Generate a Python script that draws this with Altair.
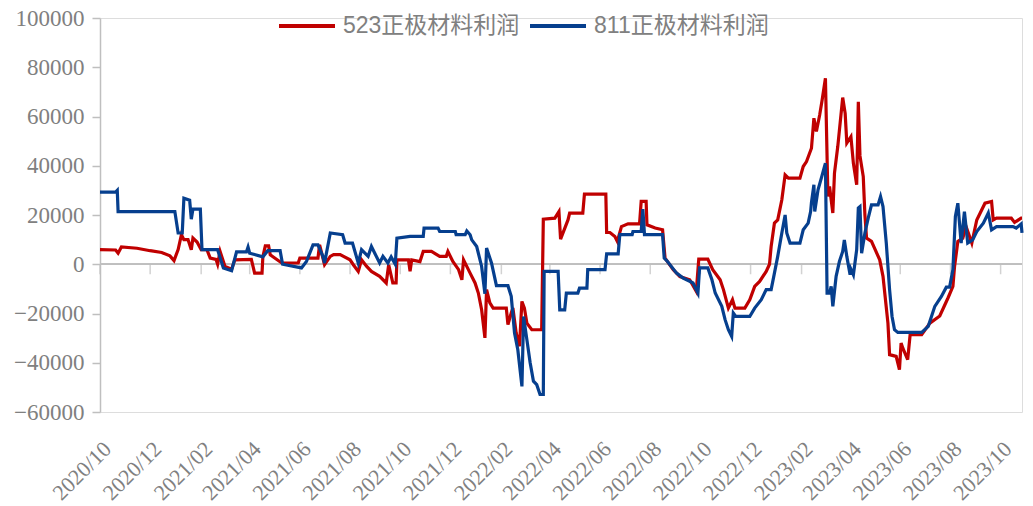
import altair as alt
import pandas as pd

# Cathode material profit (yuan/ton), daily series with step changes
red_name = "523正极材料利润"
blue_name = "811正极材料利润"

red_dates = [
    "2020-10-01", "2020-10-20", "2020-10-23", "2020-10-27", "2020-11-15", "2020-12-01",
    "2020-12-15", "2020-12-25", "2020-12-30", "2021-01-04", "2021-01-08", "2021-01-11",
    "2021-01-16", "2021-01-20", "2021-01-22", "2021-01-27", "2021-02-01", "2021-02-08",
    "2021-02-12", "2021-02-19", "2021-02-21", "2021-02-24", "2021-03-02", "2021-03-10",
    "2021-03-14", "2021-04-03", "2021-04-07", "2021-04-16", "2021-04-17", "2021-04-20",
    "2021-04-24", "2021-04-26", "2021-05-10", "2021-05-30", "2021-06-01", "2021-06-23",
    "2021-06-25", "2021-07-01", "2021-07-08", "2021-07-12", "2021-07-20", "2021-08-01",
    "2021-08-05", "2021-08-11", "2021-08-15", "2021-08-21", "2021-08-27", "2021-09-06",
    "2021-09-14", "2021-09-17", "2021-09-22", "2021-09-26", "2021-09-27", "2021-10-11",
    "2021-10-13", "2021-10-15", "2021-10-25", "2021-10-29", "2021-11-08", "2021-11-18",
    "2021-11-26", "2021-11-28", "2021-12-04", "2021-12-11", "2021-12-15", "2021-12-17",
    "2021-12-25", "2021-12-31", "2022-01-04", "2022-01-08", "2022-01-12", "2022-01-14",
    "2022-01-18", "2022-01-22", "2022-02-07", "2022-02-09", "2022-02-13", "2022-02-15",
    "2022-02-19", "2022-02-23", "2022-02-26", "2022-03-01", "2022-03-04", "2022-03-10",
    "2022-03-22", "2022-03-24", "2022-04-07", "2022-04-12", "2022-04-14", "2022-04-23",
    "2022-04-25", "2022-05-11", "2022-05-13", "2022-06-08", "2022-06-09", "2022-06-13",
    "2022-06-19", "2022-06-22", "2022-06-27", "2022-07-05", "2022-07-19", "2022-07-21",
    "2022-07-27", "2022-07-28", "2022-08-07", "2022-08-16", "2022-08-19", "2022-08-29",
    "2022-09-06", "2022-09-18", "2022-09-26", "2022-09-29", "2022-10-10", "2022-10-16",
    "2022-10-25", "2022-10-29", "2022-11-04", "2022-11-09", "2022-11-12", "2022-11-24",
    "2022-11-30", "2022-12-06", "2022-12-12", "2022-12-20", "2022-12-24", "2022-12-26",
    "2022-12-30", "2023-01-03", "2023-01-08", "2023-01-12", "2023-01-16", "2023-01-30",
    "2023-02-03", "2023-02-07", "2023-02-13", "2023-02-16", "2023-02-19", "2023-02-23",
    "2023-02-26", "2023-03-02", "2023-03-05", "2023-03-07", "2023-03-11", "2023-03-13",
    "2023-03-17", "2023-03-23", "2023-03-26", "2023-03-28", "2023-04-02", "2023-04-05",
    "2023-04-09", "2023-04-11", "2023-04-13", "2023-04-17", "2023-04-19", "2023-04-21",
    "2023-04-27", "2023-05-07", "2023-05-11", "2023-05-17", "2023-05-19", "2023-05-27",
    "2023-05-31", "2023-06-02", "2023-06-04", "2023-06-10", "2023-06-13", "2023-06-27",
    "2023-07-07", "2023-07-19", "2023-07-29", "2023-08-04", "2023-08-06", "2023-08-10",
    "2023-08-16", "2023-08-20", "2023-08-27", "2023-09-02", "2023-09-12", "2023-09-20",
    "2023-09-22", "2023-09-26", "2023-10-14", "2023-10-18", "2023-10-26", "2023-10-27",
]
red_values = [
    5900, 5800, 4500, 7000, 6500, 5500,
    4800, 3400, 1500, 6000, 12000, 10000,
    10000, 5900, 10600, 9000, 5900, 5900,
    2500, 2000, 0, 5200, -900, -2000,
    1800, 2000, -3600, -3600, 3000, 7500,
    7500, 3800, 500, 500, 2500, 2500,
    7900, -200, 3200, 3900, 3900, 1800,
    -200, -2900, 1800, -800, -2900, -4900,
    -7600, -200, -7600, -7600, 1800, 1800,
    -2900, 1800, 1100, 5200, 5200, 3200,
    3200, 5200, 1100, -2200, -6300, 1800,
    -3600, -7600, -11700, -18500, -29900, -10300,
    -15700, -17800, -17800, -24500, -19800, -17800,
    -27900, -33300, -15100, -17800, -23900, -26600,
    -26600, 18300, 18700, 21400, 10200, 18000,
    20800, 20800, 28500, 28500, 12900, 12900,
    11300, 9300, 15300, 16400, 16400, 25500,
    25500, 16000, 14700, 14000, 2500, -2200,
    -5000, -6300, -11000, 2100, 2100, -2200,
    -6300, -10300, -17800, -14400, -17800, -17800,
    -14400, -9000, -7000, -2900, 0, 7200,
    16700, 18000, 26200, 36300, 35000, 35000,
    39700, 41700, 47100, 59300, 53900, 60600,
    66700, 75500, 27500, 31600, 20800, 37000,
    47800, 67700, 61300, 49200, 51800, 41000,
    32300, 66000, 44000, 35600, 20000, 10600,
    9300, 1800, -4900, -23900, -36700, -37400,
    -42800, -32000, -34000, -38700, -28600, -28600,
    -23900, -21000, -13700, -9000, -900, 9300,
    10600, 15300, 8600, 18000, 24800, 25500,
    18000, 18700, 18700, 17000, 18700, 18700,
]

blue_dates = [
    "2020-10-01", "2020-10-20", "2020-10-22", "2020-10-23", "2020-12-31", "2021-01-04",
    "2021-01-09", "2021-01-11", "2021-01-18", "2021-01-20", "2021-01-22", "2021-01-31",
    "2021-02-02", "2021-02-21", "2021-02-28", "2021-03-10", "2021-03-16", "2021-03-28",
    "2021-03-30", "2021-04-01", "2021-04-17", "2021-04-23", "2021-05-08", "2021-05-11",
    "2021-06-03", "2021-06-09", "2021-06-17", "2021-06-23", "2021-06-29", "2021-07-01",
    "2021-07-08", "2021-07-23", "2021-07-26", "2021-08-04", "2021-08-11", "2021-08-15",
    "2021-08-23", "2021-08-27", "2021-09-06", "2021-09-10", "2021-09-16", "2021-09-20",
    "2021-09-25", "2021-09-27", "2021-10-13", "2021-10-29", "2021-10-30", "2021-11-16",
    "2021-11-18", "2021-12-07", "2021-12-08", "2021-12-19", "2021-12-21", "2021-12-25",
    "2021-12-27", "2022-01-02", "2022-01-08", "2022-01-12", "2022-01-14", "2022-01-20",
    "2022-01-26", "2022-02-09", "2022-02-13", "2022-02-17", "2022-02-21", "2022-02-26",
    "2022-02-28", "2022-03-04", "2022-03-08", "2022-03-12", "2022-03-16", "2022-03-20",
    "2022-03-24", "2022-03-25", "2022-04-11", "2022-04-13", "2022-04-19", "2022-04-21",
    "2022-05-05", "2022-05-07", "2022-05-16", "2022-05-17", "2022-06-07", "2022-06-09",
    "2022-06-23", "2022-06-25", "2022-07-10", "2022-07-11", "2022-07-21", "2022-07-23",
    "2022-07-25", "2022-08-16", "2022-08-18", "2022-08-21", "2022-09-02", "2022-09-10",
    "2022-09-18", "2022-09-22", "2022-09-28", "2022-09-30", "2022-10-10", "2022-10-15",
    "2022-10-19", "2022-10-27", "2022-10-31", "2022-11-04", "2022-11-08", "2022-11-10",
    "2022-11-13", "2022-11-30", "2022-12-06", "2022-12-14", "2022-12-20", "2022-12-26",
    "2022-12-30", "2023-01-03", "2023-01-08", "2023-01-12", "2023-01-14", "2023-01-18",
    "2023-01-30", "2023-02-03", "2023-02-09", "2023-02-12", "2023-02-13", "2023-02-16",
    "2023-02-17", "2023-02-21", "2023-02-25", "2023-03-02", "2023-03-04", "2023-03-07",
    "2023-03-09", "2023-03-11", "2023-03-15", "2023-03-19", "2023-03-23", "2023-03-25",
    "2023-03-28", "2023-04-01", "2023-04-02", "2023-04-05", "2023-04-09", "2023-04-11",
    "2023-04-13", "2023-04-15", "2023-04-19", "2023-04-23", "2023-04-27", "2023-05-05",
    "2023-05-08", "2023-05-11", "2023-05-15", "2023-05-19", "2023-05-22", "2023-05-25",
    "2023-05-29", "2023-06-27", "2023-07-05", "2023-07-13", "2023-07-21", "2023-07-27",
    "2023-07-31", "2023-08-04", "2023-08-07", "2023-08-10", "2023-08-14", "2023-08-18",
    "2023-08-22", "2023-08-28", "2023-09-02", "2023-09-10", "2023-09-16", "2023-09-20",
    "2023-09-26", "2023-10-16", "2023-10-20", "2023-10-26", "2023-10-27",
]
blue_values = [
    29300, 29300, 30000, 21400, 21400, 12700,
    12700, 26800, 26000, 18300, 22400, 22400,
    5900, 5900, -1500, -2600, 5000, 5000,
    7000, 4500, 3000, 5500, 5500, 0,
    -1500, 1100, 7900, 7900, 3200, 500,
    12700, 12000, 8600, 8600, 500, 5900,
    3200, 7200, 500, 3200, 500, 3000,
    0, 10600, 11300, 11300, 14700, 14700,
    13300, 13300, 12000, 12000, 13500, 12000,
    9900, 7200, -900, -12000, 6600, 500,
    -8700, -8700, -13000, -27900, -34700, -49600,
    -21200, -30600, -40000, -47500, -48900, -52900,
    -52900, -2900, -2900, -18500, -18500, -11700,
    -11700, -9700, -9700, -2200, -2200, 4200,
    4200, 12000, 12000, 13300, 13300, 22400,
    12000, 12000, 2500, 1500, -3600, -5600,
    -6900, -7600, -11700, -1500, -1500, -6300,
    -11700, -17100, -22500, -26600, -29300, -19800,
    -21200, -21200, -17800, -14400, -10300, -10300,
    -3600, 3200, 12700, 20000, 12700, 8600,
    8600, 14000, 16700, 21400, 25000, 32300,
    21400, 30200, 35000, 41000, -11700, -11700,
    -9000, -17100, -4900, 1100, 5200, 9900,
    3200, -4300, -2000, -4300, 5900, 22800,
    23400, 4500, 12700, 18700, 24100, 24100,
    27500, 23400, 8600, -10300, -21200, -26600,
    -27700, -27700, -25200, -17100, -13100, -9300,
    -9300, -2200, 19400, 24800, 8600, 21400,
    8600, 9900, 13300, 16700, 20800, 14000,
    15300, 15300, 14700, 16400, 12700,
]

# Two-month tick positions along the date axis
tick_dates = [
    "2020-10-01", "2020-12-01", "2021-02-01", "2021-04-01", "2021-06-01", "2021-08-01",
    "2021-10-01", "2021-12-01", "2022-02-01", "2022-04-01", "2022-06-01", "2022-08-01",
    "2022-10-01", "2022-12-01", "2023-02-01", "2023-04-01", "2023-06-01", "2023-08-01",
    "2023-10-01",
]
y_ticks = [-60000, -40000, -20000, 0, 20000, 40000, 60000, 80000, 100000]

RED = "#C00000"
BLUE = "#063F8E"
AXIS_GRAY = "#BFBFBF"
TEXT_GRAY = "#808080"
SERIF = "Liberation Serif"
SANS = "Liberation Sans, Noto Sans CJK SC"

df = pd.concat([
    pd.DataFrame({"date": red_dates, "value": red_values, "series": red_name}),
    pd.DataFrame({"date": blue_dates, "value": blue_values, "series": blue_name}),
], ignore_index=True)
ticks_df = pd.DataFrame({"date": tick_dates})


def dt(s):
    y, m, d = (int(p) for p in s.split("-"))
    return alt.DateTime(year=y, month=m, date=d, utc=True)


x_scale = alt.Scale(type="utc", domain=[dt("2020-10-01"), dt("2023-10-27")], nice=False)
y_scale = alt.Scale(domain=[-60000, 100000], nice=False, zero=False)

x_axis = alt.Axis(
    values=[dt(s) for s in tick_dates], format="%Y/%m", labelAngle=-45,
    domain=False, ticks=False, grid=False, labelFont=SERIF, labelFontSize=22,
    labelColor=TEXT_GRAY, labelPadding=26, title=None, labelOverlap=False,
    labelBound=False, labelFlush=False,
)
y_axis = alt.Axis(
    values=y_ticks, format="d", grid=False, domain=True, domainColor=AXIS_GRAY,
    domainWidth=1.5, ticks=True, tickColor=AXIS_GRAY, tickWidth=1.5, tickSize=8,
    labelFont=SERIF, labelFontSize=23, labelColor=TEXT_GRAY, labelPadding=8,
    title=None,
)

zero_line = alt.Chart(df).mark_rule(color=AXIS_GRAY, strokeWidth=1.5).encode(
    y=alt.datum(0, scale=y_scale, axis=y_axis)
)

tick_marks = alt.Chart(ticks_df).mark_tick(
    orient="vertical", color=AXIS_GRAY, thickness=1.5, size=10, yOffset=5
).encode(
    x=alt.X("date:T", scale=x_scale, axis=x_axis),
    y=alt.datum(0),
)

lines = alt.Chart(df).mark_line(strokeWidth=3.2, interpolate="linear").encode(
    x=alt.X("date:T", scale=x_scale, axis=x_axis),
    y=alt.Y("value:Q", scale=y_scale, axis=y_axis),
    color=alt.Color(
        "series:N",
        scale=alt.Scale(domain=[red_name, blue_name], range=[RED, BLUE]),
        legend=alt.Legend(
            orient="none", legendX=177, legendY=-22, direction="horizontal",
            title=None, symbolType="stroke", symbolSize=3136, symbolStrokeWidth=4,
            labelFont=SANS, labelFontSize=23, labelColor=TEXT_GRAY, labelOffset=6,
            labelLimit=0, columnPadding=2, padding=0,
        ),
    ),
    order=alt.Order("date:T"),
)

chart = alt.layer(zero_line, tick_marks, lines).properties(
    width=922,
    height=394,
    padding={"left": 100, "top": 18, "right": 11, "bottom": 94},
    autosize=alt.AutoSizeParams(type="none"),
).configure_view(stroke=None).configure(background="white")

chart.save("out.html", embed_options={"renderer": "svg", "actions": False})
